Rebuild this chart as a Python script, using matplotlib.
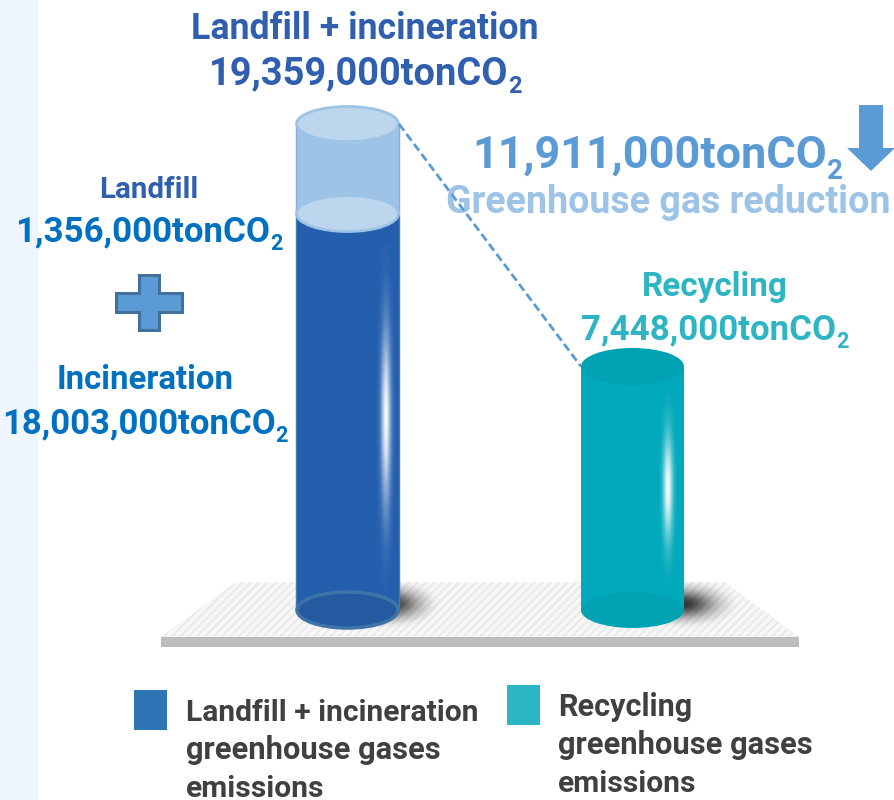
import numpy as np
import matplotlib
matplotlib.use('Agg')
import matplotlib.pyplot as plt
from matplotlib.patches import Ellipse, Polygon, Rectangle

plt.rcParams['font.family'] = ['Roboto', 'DejaVu Sans']
plt.rcParams['font.weight'] = 'bold'
plt.rcParams['hatch.linewidth'] = 1.4

categories = ['Landfill + incineration', 'Recycling']
incineration = 18003000
landfill = 1356000
recycling = 7448000
total = 19359000
reduction = 11911000

W, H = 895, 800
BLUE = '#245fae'
BLUE_LIGHT = '#9dc3e6'
TEAL = '#00a9bb'


def glow(ax, x0, x1, y0, y1, rgb, alpha):
    # paint an rgba array as a soft highlight or shadow
    img = np.zeros(alpha.shape + (4,))
    img[..., :3] = rgb
    img[..., 3] = alpha
    ax.imshow(img, extent=(x0, x1, y1, y0), aspect='auto', interpolation='bilinear', zorder=3)


fig = plt.figure(figsize=(W / 100, H / 100), dpi=100)

# pixel-space layer under the bars
bg = fig.add_axes([0, 0, 1, 1], zorder=0)
bg.axis('off')
bg.add_patch(Rectangle((0, 0), 38, H, fc='#eef5fd', ec='none'))
bg.add_patch(Polygon([(236, 582), (725, 582), (799, 637), (161, 637)], fc='#f7f7f7', ec='#e9e9e9', hatch='////', lw=0))
bg.add_patch(Rectangle((161, 637), 638, 10, fc='#bdbdbd', ec='none'))

yy, xx = np.mgrid[-1:1:80j, -1:1:160j]
r = np.sqrt(xx ** 2 + yy ** 2)
shadow = 0.88 * np.exp(-(r / 0.52) ** 2) * np.clip((1 - r) * 4, 0, 1)
glow(bg, 336, 444, 578, 630, (0.1, 0.1, 0.1), shadow)
glow(bg, 624, 742, 578, 630, (0.1, 0.1, 0.1), shadow)
bg.set_xlim(0, W)
bg.set_ylim(H, 0)

# value axis, the cylinders are not drawn to a linear scale
anchors_v = [0, recycling, incineration, total]
anchors_h = [0, 243.5, 396.5, 486]
forward = lambda v: np.interp(v, anchors_v, anchors_h)
inverse = lambda h: np.interp(h, anchors_h, anchors_v)

BASE = 610
TOP = BASE - anchors_h[-1]
ax = fig.add_axes([0, (H - BASE) / H, 1, (BASE - TOP) / H], zorder=1)
ax.set_yscale('function', functions=(forward, inverse))
ax.set_xlim(-347.5 / 285, (W - 347.5) / 285)
ax.set_ylim(0, total)
ax.axis('off')
bar_w = 103 / 285
ax.bar(0, incineration, bar_w, color=BLUE, ec='#4a7aa8', lw=1)
ax.bar(0, landfill, bar_w, bottom=incineration, color=BLUE_LIGHT, ec='#8ea9db', lw=1)
ax.bar(1, recycling, bar_w, color=TEAL)

# pixel-space layer over the bars
top = fig.add_axes([0, 0, 1, 1], zorder=2)
top.set_xlim(0, W)
top.set_ylim(H, 0)
top.axis('off')
top.patch.set_alpha(0)


def px(x, v):
    p = ax.transData.transform((x, v))
    return top.transData.inverted().transform(p)


x0, y_total = px(0, total)
_, y_inc = px(0, incineration)
x1, y_rec = px(1, recycling)
_, y_base = px(0, 0)
e_w = bar_w * 285

top.add_patch(Ellipse((x0, y_base), e_w - 2, 36, fc='#245a9f', ec='#3f74a8', lw=2.5, zorder=2))
top.add_patch(Ellipse((x0, y_inc), e_w - 1, 36, fc='#bdd6ee', ec=BLUE_LIGHT, lw=2, zorder=2))
top.add_patch(Ellipse((x0, y_total), e_w - 1, 35, fc='#bdd6ee', ec=BLUE_LIGHT, lw=2, zorder=2))
top.add_patch(Ellipse((x1, y_base), e_w, 36, fc='#00a2b3', ec='none', zorder=2))
top.add_patch(Ellipse((x1, y_rec), e_w, 37, fc='#00a2b3', ec='none', zorder=2))

# vertical glints on the cylinder walls
yy, xx = np.mgrid[-1:1:200j, -1:1:30j]
streak = np.exp(-(xx / 0.45) ** 2) * np.exp(-(yy / 0.5) ** 2)
glow(top, 375, 397, 245, 590, (1, 1, 1), streak * 0.97)
glow(top, 657, 679, 385, 590, (1, 1, 1), streak * 0.97)
top.set_xlim(0, W)
top.set_ylim(H, 0)

top.plot([x0 + e_w / 2, x1 - e_w / 2], [y_total, y_rec], color='#5b9bd5', lw=2, ls=(0, (3, 1.5)), zorder=6)

# plus sign and down arrow
top.add_patch(Polygon([(139, 275), (159, 275), (159, 293), (182, 293), (182, 312), (159, 312), (159, 330),
                       (139, 330), (139, 312), (116, 312), (116, 293), (139, 293)],
                      fc='#5b9bd5', ec='#41719c', lw=2.2, zorder=4))
top.add_patch(Polygon([(859, 105), (883, 105), (883, 148), (895, 148), (871, 171), (847, 148), (859, 148)],
                      fc='#5b9bd5', ec='none', zorder=4))

C_NAVY = '#2f5fae'
C_BLUE = '#0070c0'
C_TEAL = '#2eb5c3'
C_GREY = '#404040'
renderer = fig.canvas.get_renderer()
SUB = 0.62


def label(left, right, base, s, color, sub=False):
    # size the text so it spans left..right, with an optional CO2 subscript
    t = top.text(left, base, s, color=color, fontsize=20, ha='left', va='baseline', zorder=5)
    w = t.get_window_extent(renderer).width
    s2 = None
    if sub:
        s2 = top.text(left, base, '2', color=color, fontsize=20 * SUB, ha='left', va='baseline', zorder=5)
        w += s2.get_window_extent(renderer).width
    size = 20 * (right - left) / w
    t.set_fontsize(size)
    if sub:
        s2.set_fontsize(size * SUB)
        main_w = t.get_window_extent(renderer).width
        s2.set_position((left + main_w, base + size * 100 / 72 * 0.25))


def amount(v):
    return f'{v:,}tonCO'


label(191, 538, 39, categories[0], C_NAVY)
label(209, 521, 84, amount(total), C_NAVY, sub=True)
label(99, 198, 198, 'Landfill', C_NAVY)
label(15, 282, 241, amount(landfill), C_BLUE, sub=True)
label(57, 233, 389, 'Incineration', C_BLUE)
label(2, 288, 433, amount(incineration), C_BLUE, sub=True)
label(472, 842, 168, amount(reduction), '#5b9bd5', sub=True)
label(446, 890, 213, 'Greenhouse gas reduction', BLUE_LIGHT)
label(642, 788, 296, categories[1], C_TEAL)
label(581, 848, 339, amount(recycling), C_TEAL, sub=True)

# legend
top.add_patch(Rectangle((134, 690), 33, 40, fc='#2e75b6', ec='none'))
top.add_patch(Rectangle((507, 685), 33, 40, fc='#2bb6c4', ec='none'))
label(186, 477, 721, categories[0], C_GREY)
label(186, 440, 759, 'greenhouse gases', C_GREY)
label(186, 324, 797, 'emissions', C_GREY)
label(558, 692, 716, categories[1], C_GREY)
label(558, 812, 754, 'greenhouse gases', C_GREY)
label(558, 696, 792, 'emissions', C_GREY)

fig.savefig('out.png', dpi=100)
